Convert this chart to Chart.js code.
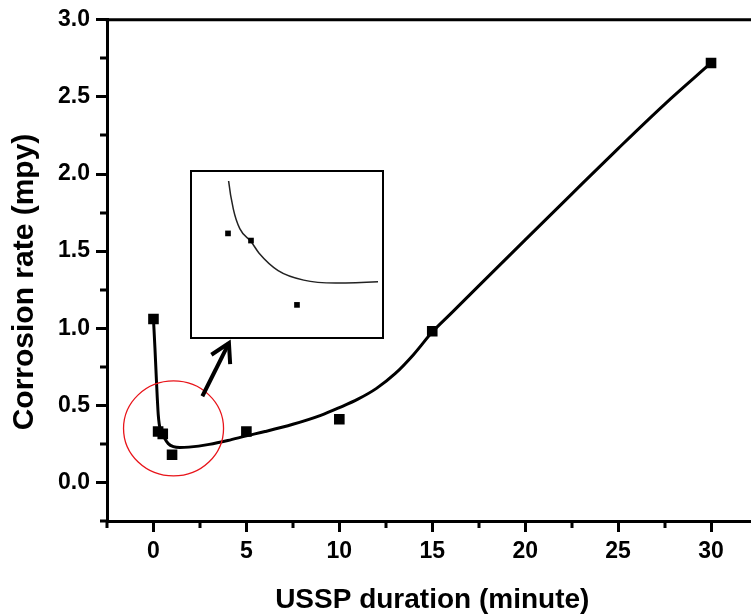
<!DOCTYPE html>
<html>
<head>
<meta charset="utf-8">
<script src="https://cdn.jsdelivr.net/npm/chart.js@4.4.1/dist/chart.umd.min.js"></script>
<style>
  html, body { margin: 0; padding: 0; background: #fff; overflow: hidden; }
  #wrap { position: relative; width: 765px; height: 618px; }
  #inset { position: absolute; left: 190px; top: 170px; width: 194px; height: 169px;
           border: 2px solid #000; box-sizing: border-box; background: #fff; }
  #inset canvas { display: block; }
</style>
</head>
<body>
<div id="wrap">
  <canvas id="mainChart" width="765" height="618"></canvas>
  <div id="inset"><canvas id="insetChart" width="190" height="165"></canvas></div>
</div>
<script>
// measured points
const durations = [0, 0.25, 0.5, 1, 5, 10, 15, 30];
const corrosionRates = [1.06, 0.33, 0.315, 0.18, 0.33, 0.41, 0.98, 2.72];

// fitted curve
const fitX = [0, 0.08, 0.16, 0.256, 0.308, 0.378, 0.5, 0.586, 0.795, 1.073, 1.42, 1.9,
              3.0, 4.0, 5.0, 6.0, 7.5, 9.0, 10.0, 11.0, 12.0, 13.0, 14.0, 15.0, 16.0,
              17.5, 20.0, 22.5, 25.0, 27.5, 30.0];
const fitY = [1.06, 0.87, 0.66, 0.441, 0.381, 0.340, 0.313, 0.289, 0.252, 0.232, 0.226, 0.229,
              0.247, 0.272, 0.302, 0.33, 0.377, 0.435, 0.485, 0.54, 0.61, 0.705, 0.83, 0.975, 1.095,
              1.275, 1.573, 1.87, 2.165, 2.452, 2.72];

// axis ticks
const xTicks = [0, 5, 10, 15, 20, 25, 30];
const xMinorTicks = [-2.5, 2.5, 7.5, 12.5, 17.5, 22.5, 27.5];
const yTicks = [0, 0.5, 1.0, 1.5, 2.0, 2.5, 3.0];
const yMinorTicks = [-0.25, 0.25, 0.75, 1.25, 1.75, 2.25, 2.75];

const FONT = "'Liberation Sans', Arial, sans-serif";
const points = durations.map((x, i) => ({ x, y: corrosionRates[i] }));
const curve = fitX.map((x, i) => ({ x, y: fitY[i] }));

// frame top line, minor ticks, red circle, arrow, y title
const overlay = {
  id: 'overlay',
  afterDraw(chart) {
    const { ctx, chartArea: a, scales: { x, y } } = chart;
    ctx.save();
    ctx.strokeStyle = '#000';
    ctx.lineWidth = 3;
    ctx.beginPath();
    ctx.moveTo(a.left - 1.5, a.top);
    ctx.lineTo(a.right, a.top);
    ctx.lineTo(a.right, a.bottom);
    ctx.stroke();

    ctx.beginPath();
    xMinorTicks.forEach(v => {
      const px = Math.round(x.getPixelForValue(v));
      ctx.moveTo(px, a.bottom);
      ctx.lineTo(px, a.bottom + 7);
    });
    yMinorTicks.forEach(v => {
      const py = Math.round(y.getPixelForValue(v));
      ctx.moveTo(a.left, py);
      ctx.lineTo(a.left - 7, py);
    });
    ctx.stroke();

    // red circle around the low-duration points
    ctx.strokeStyle = '#e8141a';
    ctx.lineWidth = 1.3;
    ctx.beginPath();
    ctx.ellipse(x.getPixelForValue(1.08), y.getPixelForValue(0.35), 50, 47.5, 0, 0, Math.PI * 2);
    ctx.stroke();

    // arrow to the inset
    const tx = x.getPixelForValue(2.63), ty = y.getPixelForValue(0.559);
    const hx = x.getPixelForValue(4.06), hy = y.getPixelForValue(0.903);
    const ang = Math.atan2(ty - hy, tx - hx);
    const hl = 21, spread = Math.PI / 6;
    ctx.strokeStyle = '#000';
    ctx.lineWidth = 4;
    ctx.lineJoin = 'miter';
    ctx.beginPath();
    ctx.moveTo(tx, ty);
    ctx.lineTo(hx, hy);
    ctx.stroke();
    ctx.beginPath();
    ctx.moveTo(hx + hl * Math.cos(ang + spread), hy + hl * Math.sin(ang + spread));
    ctx.lineTo(hx, hy);
    ctx.lineTo(hx + hl * Math.cos(ang - spread), hy + hl * Math.sin(ang - spread));
    ctx.stroke();

    // y axis title
    ctx.translate(25, 282);
    ctx.rotate(-Math.PI / 2);
    ctx.fillStyle = '#000';
    ctx.font = 'bold 30px ' + FONT;
    ctx.textAlign = 'center';
    ctx.textBaseline = 'middle';
    ctx.fillText('Corrosion rate (mpy)', 0, 0);
    ctx.restore();
  }
};

new Chart(document.getElementById('mainChart'), {
  type: 'scatter',
  data: {
    datasets: [
      {
        label: 'Fit',
        data: curve,
        showLine: true,
        borderColor: '#000',
        borderWidth: 3,
        pointRadius: 0,
        cubicInterpolationMode: 'monotone',
        fill: false,
        order: 2
      },
      {
        label: 'Corrosion rate',
        data: points,
        pointStyle: 'rect',
        pointRadius: 7.5,
        backgroundColor: '#000',
        borderColor: '#000',
        borderWidth: 0,
        order: 1
      }
    ]
  },
  options: {
    responsive: false,
    animation: false,
    events: [],
    layout: { padding: { top: 17, right: 7, left: 0, bottom: 0 } },
    plugins: { legend: { display: false }, tooltip: { enabled: false } },
    scales: {
      x: {
        type: 'linear',
        min: -2.5,
        max: 32.5,
        afterBuildTicks: s => { s.ticks = xTicks.map(v => ({ value: v })); },
        afterFit: s => { s.height = 97; },
        ticks: {
          color: '#000',
          padding: 6,
          autoSkip: false,
          maxRotation: 0,
          font: { family: FONT, size: 23, weight: 'bold' },
          callback: v => String(v)
        },
        grid: { drawOnChartArea: false, tickLength: 11, tickWidth: 3, tickColor: '#000' },
        border: { display: true, width: 3, color: '#000' },
        title: {
          display: true,
          text: 'USSP duration (minute)',
          color: '#000',
          font: { family: FONT, size: 28, weight: 'bold' },
          padding: { top: 0, bottom: 1 }
        }
      },
      y: {
        min: -0.25,
        max: 3.0,
        afterBuildTicks: s => { s.ticks = yTicks.map(v => ({ value: v })); },
        afterFit: s => { s.width = 107; },
        ticks: {
          color: '#000',
          padding: 6,
          autoSkip: false,
          font: { family: FONT, size: 23, weight: 'bold' },
          callback: v => v.toFixed(1)
        },
        grid: { drawOnChartArea: false, tickLength: 11, tickWidth: 3, tickColor: '#000' },
        border: { display: true, width: 3, color: '#000' }
      }
    }
  },
  plugins: [overlay]
});

// zoomed inset of the first minutes
new Chart(document.getElementById('insetChart'), {
  type: 'scatter',
  data: {
    datasets: [
      {
        label: 'Fit',
        data: curve,
        showLine: true,
        borderColor: '#222',
        borderWidth: 1.5,
        pointRadius: 0,
        cubicInterpolationMode: 'monotone',
        fill: false,
        order: 2
      },
      {
        label: 'Corrosion rate',
        data: points,
        pointStyle: 'rect',
        pointRadius: 4,
        backgroundColor: '#000',
        borderColor: '#000',
        borderWidth: 0,
        order: 1
      }
    ]
  },
  options: {
    responsive: false,
    animation: false,
    events: [],
    layout: { padding: { top: 9, right: 0, left: 0, bottom: 0 } },
    plugins: { legend: { display: false }, tooltip: { enabled: false } },
    scales: {
      x: { type: 'linear', display: false, min: -0.098, max: 1.881 },
      y: { display: false, min: 0.121, max: 0.44 }
    }
  }
});
</script>
</body>
</html>
